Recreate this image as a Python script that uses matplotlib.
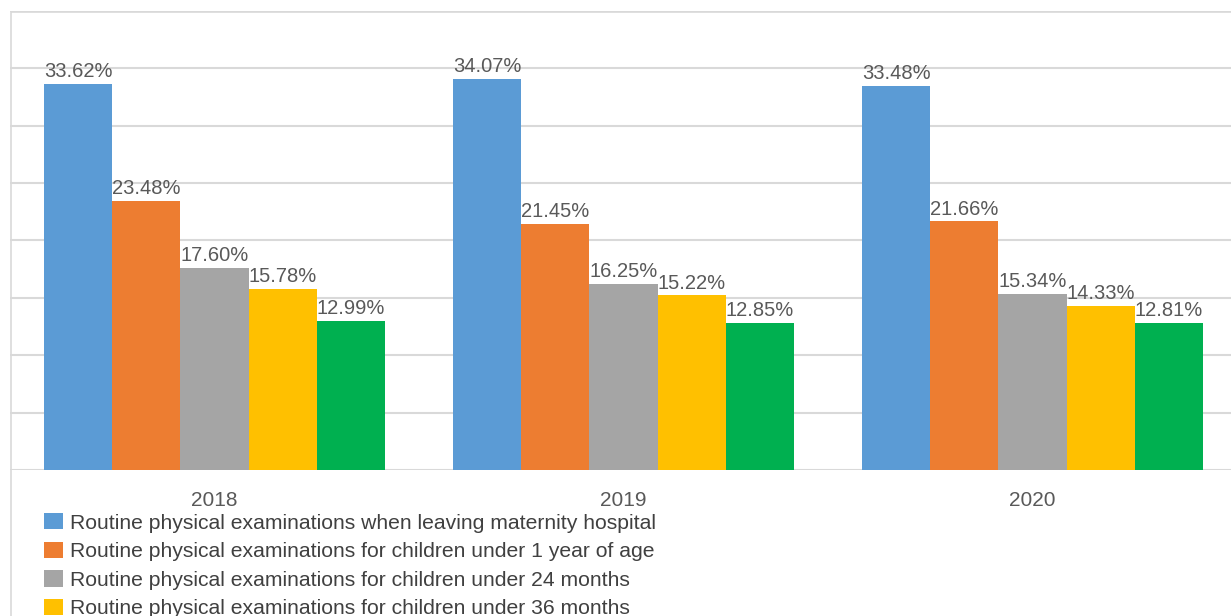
import numpy as np
import matplotlib
matplotlib.use('Agg')
from matplotlib import pyplot as plt
from matplotlib.patches import Rectangle

plt.rcParams['font.family'] = ['Liberation Sans', 'DejaVu Sans']

years = ['2018', '2019', '2020']
series_names = [
    'Routine physical examinations when leaving maternity hospital',
    'Routine physical examinations for children under 1 year of age',
    'Routine physical examinations for children under 24 months',
    'Routine physical examinations for children under 36 months',
    'Routine physical examinations for children (fifth group)',
]
leaving_hospital = [33.62, 34.07, 33.48]
under_1_year = [23.48, 21.45, 21.66]
under_24_months = [17.60, 16.25, 15.34]
under_36_months = [15.78, 15.22, 14.33]
fifth_group = [12.99, 12.85, 12.81]

series = [leaving_hospital, under_1_year, under_24_months, under_36_months, fifth_group]
colors = ['#5B9BD5', '#ED7D31', '#A5A5A5', '#FFC000', '#00B050']

W, H = 1231, 616
fig = plt.figure(figsize=(W / 100, H / 100), dpi=100)

# chart area border (cropped screenshot)
fig.patches.append(Rectangle((11 / W, -0.1), 1.2, (H - 12) / H + 0.1, transform=fig.transFigure,
                             fill=False, edgecolor='#D9D9D9', linewidth=1.2))

ax = fig.add_axes([10 / W, (H - 470) / H, 1227 / W, 459 / H])
ax.set_xlim(-0.5, 2.5)
ax.set_ylim(0, 40)
ax.set_yticks(np.arange(0, 41, 5))
ax.yaxis.grid(True, color='#D9D9D9', linewidth=1.5)
ax.set_axisbelow(True)
ax.set_yticklabels([])
ax.tick_params(axis='y', length=0)
for s in ax.spines.values():
    s.set_visible(False)

x = np.arange(len(years))
bw = 1 / 6
handles = []
for i, (vals, c) in enumerate(zip(series, colors)):
    pos = x + (i - 2) * bw
    bars = ax.bar(pos, vals, width=bw, color=c, label=series_names[i], zorder=2)
    handles.append(bars)
    for p, v in zip(pos, vals):
        ax.annotate(f'{v:.2f}%', (p, v), xytext=(0, 2), textcoords='offset points',
                    ha='center', va='bottom', fontsize=14.5, color='#595959')

ax.set_xticks(x)
ax.set_xticklabels(years, fontsize=15, color='#595959')
ax.tick_params(axis='x', length=0, pad=15)

fig.legend(handles[:4], series_names[:4], loc='upper left',
           bbox_to_anchor=(44 / W, (H - 513) / H), frameon=False,
           fontsize=15.2, handlelength=0.92, handleheight=0.82, handletextpad=0.3,
           labelspacing=0.43, borderpad=0, borderaxespad=0, labelcolor='#404040')

fig.savefig('out.png', dpi=100)
